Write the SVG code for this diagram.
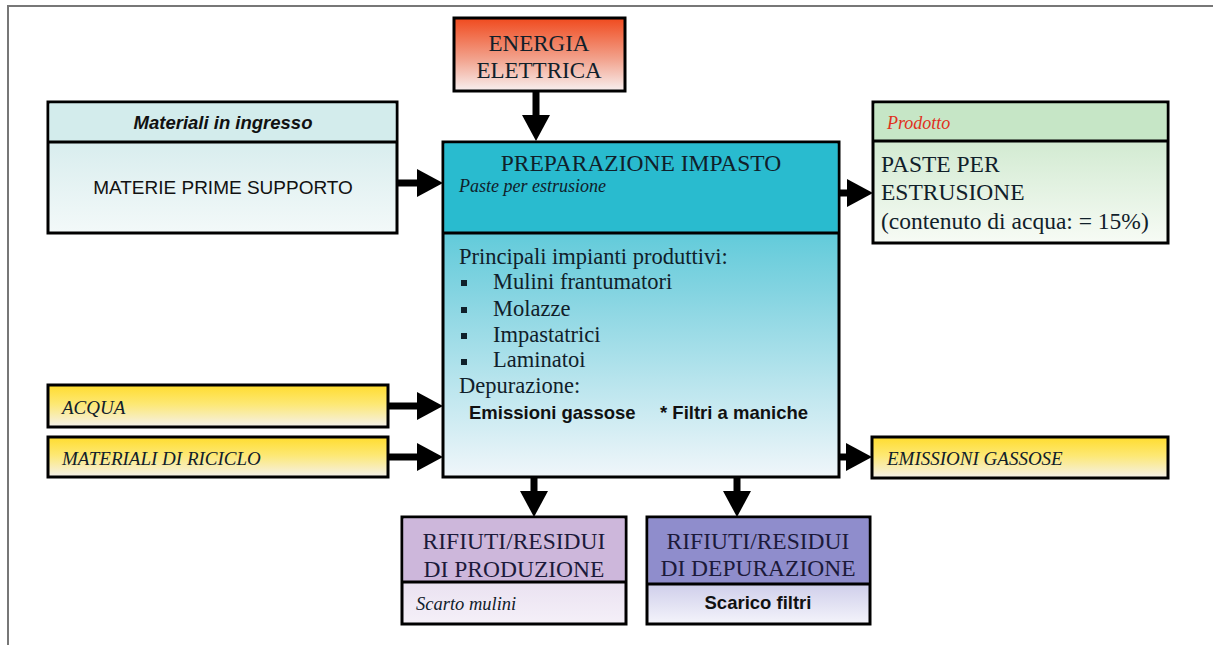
<svg xmlns="http://www.w3.org/2000/svg" width="1213" height="645" viewBox="0 0 1213 645">
<defs>
<linearGradient id="gEn" x1="0" y1="0" x2="0" y2="1"><stop offset="0" stop-color="#f04a1e"/><stop offset="0.55" stop-color="#f2a08a"/><stop offset="1" stop-color="#f8f0f0"/></linearGradient>
<linearGradient id="gCy" x1="0" y1="0" x2="0" y2="1"><stop offset="0" stop-color="#cde8e9"/><stop offset="1" stop-color="#f3f9f9"/></linearGradient>
<linearGradient id="gTeal" x1="0" y1="0" x2="0" y2="1"><stop offset="0" stop-color="#2dbdd0"/><stop offset="0.45" stop-color="#84d4e1"/><stop offset="1" stop-color="#f0f6fa"/></linearGradient>
<linearGradient id="gGr" x1="0" y1="0" x2="0" y2="1"><stop offset="0" stop-color="#c4e4c4"/><stop offset="1" stop-color="#f7fbf5"/></linearGradient>
<linearGradient id="gYe" x1="0" y1="0" x2="0" y2="1"><stop offset="0" stop-color="#ffdc2e"/><stop offset="0.45" stop-color="#fde873"/><stop offset="1" stop-color="#f4f1ec"/></linearGradient>
<linearGradient id="gPu" x1="0" y1="0" x2="0" y2="1"><stop offset="0" stop-color="#d9cbe6"/><stop offset="1" stop-color="#f5f0f8"/></linearGradient>
<linearGradient id="gBl" x1="0" y1="0" x2="0" y2="1"><stop offset="0" stop-color="#918fcf"/><stop offset="1" stop-color="#f4f4fb"/></linearGradient>
<marker id="ah" viewBox="0 0 26 28" refX="0" refY="14" markerWidth="26" markerHeight="28" markerUnits="userSpaceOnUse" orient="auto"><path d="M0,0 L26,14 L0,28 Z" fill="#000"/></marker>
</defs>
<style>
.box{stroke:#000;stroke-width:3}
.sep{stroke:#000;stroke-width:3}
.serif{font-family:"Liberation Serif","Times New Roman",serif;fill:#10202a}
.sans{font-family:"Liberation Sans",Arial,sans-serif;fill:#111}
.conn{stroke:#000;stroke-width:7;fill:none;marker-end:url(#ah)}
.dk{fill:#1c1a3a}
</style>
<rect width="1213" height="645" fill="#fff"/>
<path d="M8,645 L8,6 L1213,6" fill="none" stroke="#777" stroke-width="2"/>

<g id="connectors">
<line class="conn" x1="536" y1="90" x2="536" y2="115"/>
<line class="conn" x1="397" y1="183" x2="417" y2="183"/>
<line class="conn" x1="839" y1="193" x2="847" y2="193"/>
<line class="conn" x1="388" y1="406" x2="417" y2="406"/>
<line class="conn" x1="388" y1="457" x2="417" y2="457"/>
<line class="conn" x1="839" y1="457" x2="846" y2="457"/>
<line class="conn" x1="534" y1="476" x2="534" y2="491"/>
<line class="conn" x1="737" y1="476" x2="737" y2="491"/>
</g>

<g id="energia">
<rect class="box" x="454" y="18" width="171" height="73" fill="url(#gEn)"/>
<text class="serif" x="539" y="51" font-size="23" text-anchor="middle">ENERGIA</text>
<text class="serif" x="539" y="78" font-size="23" text-anchor="middle">ELETTRICA</text>
</g>

<g id="materiali">
<rect class="box" x="48" y="102" width="349" height="131" fill="url(#gCy)"/>
<rect x="49.5" y="103.5" width="346" height="38" fill="#d3ecec"/>
<line class="sep" x1="48" y1="142" x2="397" y2="142"/>
<text class="sans" x="223" y="129" font-size="18.5" font-weight="bold" font-style="italic" text-anchor="middle">Materiali in ingresso</text>
<text class="sans" x="223" y="194" font-size="19" text-anchor="middle">MATERIE PRIME SUPPORTO</text>
</g>

<g id="preparazione">
<rect class="box" x="443" y="142" width="396" height="335" fill="url(#gTeal)"/>
<rect x="444.5" y="143.5" width="393" height="89" fill="#29bbcf"/>
<line class="sep" x1="443" y1="233" x2="839" y2="233"/>
<text class="serif" x="641" y="171" font-size="23.5" text-anchor="middle">PREPARAZIONE IMPASTO</text>
<text class="serif" x="459" y="192" font-size="18" font-style="italic">Paste per estrusione</text>
<text class="serif" x="459" y="264" font-size="22.5">Principali impianti produttivi:</text>
<rect x="461" y="280" width="6" height="6" fill="#10202a"/>
<text class="serif" x="493" y="289" font-size="22.5">Mulini frantumatori</text>
<rect x="461" y="307" width="6" height="6" fill="#10202a"/>
<text class="serif" x="493" y="316" font-size="22.5">Molazze</text>
<rect x="461" y="333" width="6" height="6" fill="#10202a"/>
<text class="serif" x="493" y="342" font-size="22.5">Impastatrici</text>
<rect x="461" y="359" width="6" height="6" fill="#10202a"/>
<text class="serif" x="493" y="367" font-size="22.5">Laminatoi</text>
<text class="serif" x="459" y="393" font-size="22.5">Depurazione:</text>
<text class="sans" x="469" y="419" font-size="18.5" font-weight="bold">Emissioni gassose</text>
<text class="sans" x="660" y="419" font-size="18.5" font-weight="bold">* Filtri a maniche</text>
</g>

<g id="prodotto">
<rect class="box" x="873" y="102" width="295" height="141" fill="url(#gGr)"/>
<rect x="874.5" y="103.5" width="292" height="37" fill="#c6e6c6"/>
<line class="sep" x1="873" y1="141" x2="1168" y2="141"/>
<text class="serif" x="887" y="129" font-size="18" font-style="italic" style="fill:#e03020">Prodotto</text>
<text class="serif" x="881" y="172" font-size="23.5">PASTE PER</text>
<text class="serif" x="881" y="200" font-size="23.5">ESTRUSIONE</text>
<text class="serif" x="881" y="229" font-size="23.5">(contenuto di acqua: = 15%)</text>
</g>

<g id="acqua">
<rect class="box" x="48" y="385" width="340" height="42" fill="url(#gYe)"/>
<text class="serif" x="62" y="414" font-size="19" font-style="italic">ACQUA</text>
</g>

<g id="riciclo">
<rect class="box" x="48" y="437" width="340" height="40" fill="url(#gYe)"/>
<text class="serif" x="62" y="465" font-size="19" font-style="italic">MATERIALI DI RICICLO</text>
</g>

<g id="emissioni">
<rect class="box" x="872" y="437" width="296" height="41" fill="url(#gYe)"/>
<text class="serif" x="887" y="465" font-size="19" font-style="italic">EMISSIONI GASSOSE</text>
</g>

<g id="rifiuti-produzione">
<rect class="box" x="402" y="517" width="224" height="107" fill="url(#gPu)"/>
<rect x="403.5" y="518.5" width="221" height="63" fill="#cdb7db"/>
<line class="sep" x1="402" y1="582" x2="626" y2="582"/>
<text class="serif dk" x="514" y="549" font-size="23.5" text-anchor="middle">RIFIUTI/RESIDUI</text>
<text class="serif dk" x="514" y="577" font-size="23.5" text-anchor="middle">DI PRODUZIONE</text>
<text class="serif" x="416" y="610" font-size="18.5" font-style="italic">Scarto mulini</text>
</g>

<g id="rifiuti-depurazione">
<rect class="box" x="647" y="517" width="223" height="107" fill="url(#gBl)"/>
<rect x="648.5" y="518.5" width="220" height="65" fill="#8f8dcc"/>
<line class="sep" x1="647" y1="584" x2="870" y2="584"/>
<text class="serif dk" x="758" y="549" font-size="23.5" text-anchor="middle">RIFIUTI/RESIDUI</text>
<text class="serif dk" x="758" y="576" font-size="23.5" text-anchor="middle">DI DEPURAZIONE</text>
<text class="sans" x="758" y="609" font-size="18.5" font-weight="bold" text-anchor="middle">Scarico filtri</text>
</g>
</svg>
